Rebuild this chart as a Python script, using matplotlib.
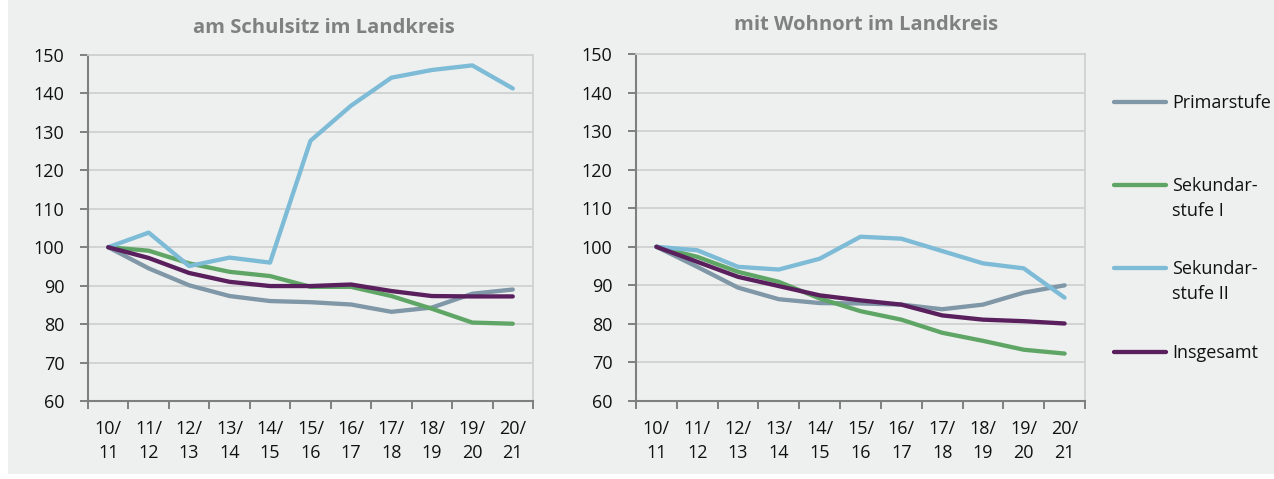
import matplotlib
matplotlib.use("Agg")
import matplotlib.pyplot as plt
from matplotlib.lines import Line2D

# school years 2010/11 .. 2020/21, index 2010/11 = 100
years = ["10/\n11", "11/\n12", "12/\n13", "13/\n14", "14/\n15", "15/\n16",
         "16/\n17", "17/\n18", "18/\n19", "19/\n20", "20/\n21"]

# am Schulsitz im Landkreis
schul_primar = [100, 94.5, 90.1, 87.3, 86.0, 85.7, 85.1, 83.2, 84.3, 87.9, 89.0]
schul_sek1 = [100, 99.1, 95.8, 93.6, 92.5, 89.7, 89.7, 87.3, 84.0, 80.4, 80.1]
schul_sek2 = [100, 103.8, 95.1, 97.3, 96.0, 127.7, 136.8, 144.1, 146.1, 147.3, 141.3]
schul_gesamt = [100, 97.2, 93.3, 91.0, 89.9, 89.9, 90.3, 88.6, 87.3, 87.2, 87.2]

# mit Wohnort im Landkreis
wohn_primar = [100, 94.8, 89.4, 86.4, 85.4, 85.3, 85.0, 83.8, 85.0, 88.1, 90.0]
wohn_sek1 = [100, 97.4, 93.5, 90.9, 86.6, 83.3, 81.1, 77.7, 75.6, 73.3, 72.3]
wohn_sek2 = [100, 99.1, 94.8, 94.1, 96.9, 102.6, 102.1, 98.9, 95.7, 94.4, 86.8]
wohn_gesamt = [100, 96.1, 92.2, 89.8, 87.4, 86.1, 85.0, 82.2, 81.1, 80.7, 80.1]

series_names = ["Primarstufe", "Sekundar-\nstufe I", "Sekundar-\nstufe II", "Insgesamt"]
colors = ["#7f97a6", "#5fa666", "#7dbbd7", "#5a1f5d"]

BG = "#eef0ef"
TXT = "#111111"
W, H = 1274, 479

plt.rcParams["font.family"] = ["Open Sans", "DejaVu Sans"]

fig = plt.figure(figsize=(W / 100, H / 100), dpi=100)
fig.patch.set_facecolor("white")
# grey panel, thin white margin on the left and at the bottom
fig.add_artist(plt.Rectangle((8 / W, 5 / H), 1, 1, transform=fig.transFigure,
                             facecolor=BG, edgecolor="none", zorder=-10))


def panel(rect, title, title_x, title_y, data):
    ax = fig.add_axes(rect)
    ax.set_facecolor(BG)
    x = list(range(len(years)))
    for vals, c in zip(data, colors):
        ax.plot(x, vals, color=c, lw=3.1, solid_capstyle="round", zorder=3)
    ax.set_xlim(-0.5, len(years) - 0.5)
    ax.set_ylim(60, 150)
    ax.set_yticks(range(60, 151, 10))
    ax.set_xticks(x)
    ax.set_xticklabels(years, linespacing=1.4)
    ax.set_xticks([i - 0.5 for i in range(len(years) + 1)], minor=True)
    ax.tick_params(axis="x", which="major", length=0, pad=14, labelsize=13, labelcolor=TXT)
    ax.tick_params(axis="x", which="minor", length=6, width=1.4, color="#7f7f7f")
    ax.tick_params(axis="y", length=6, width=1.4, color="#7f7f7f", pad=11,
                   labelsize=13, labelcolor=TXT)
    ax.grid(axis="y", color="#cfd0d0", lw=1.3, zorder=0)
    for s in ("left", "bottom"):
        ax.spines[s].set_color("#7f7f7f")
        ax.spines[s].set_linewidth(1.5)
    for s in ("top", "right"):
        ax.spines[s].set_color("#cfd0d0")
        ax.spines[s].set_linewidth(1.3)
    fig.text(title_x / W, 1 - title_y / H, title, ha="center", va="center",
             fontsize=14.5, fontweight="bold", color="#808080")
    return ax


panel([88 / W, 1 - 401 / H, 445 / W, 346 / H], "am Schulsitz im Landkreis", 324, 28,
      [schul_primar, schul_sek1, schul_sek2, schul_gesamt])
panel([636 / W, 1 - 401 / H, 449 / W, 347 / H], "mit Wohnort im Landkreis", 866, 25,
      [wohn_primar, wohn_sek1, wohn_sek2, wohn_gesamt])

# legend, drawn by hand to keep the wide spacing of the original
legend_y = [102, 185, 268, 352]
for name, c, yy in zip(series_names, colors, legend_y):
    fig.add_artist(Line2D([1114 / W, 1166 / W], [1 - yy / H] * 2, transform=fig.transFigure,
                          color=c, lw=3.1, solid_capstyle="round"))
    for k, line in enumerate(name.split("\n")):
        fig.text(1172 / W, 1 - (yy + 6 + 25 * k) / H, line, ha="left", va="baseline",
                 fontsize=13, color=TXT)

fig.savefig("out.png", dpi=100, facecolor=fig.get_facecolor())
